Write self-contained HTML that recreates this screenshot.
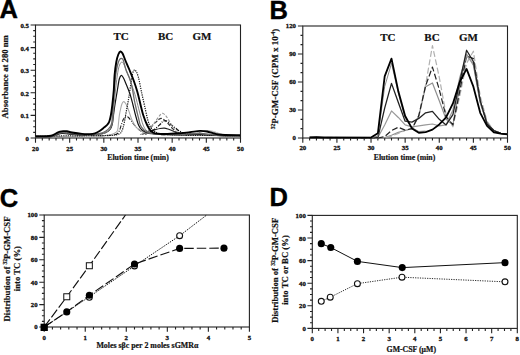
<!DOCTYPE html>
<html><head><meta charset="utf-8"><style>
html,body{margin:0;padding:0;background:#fff;width:520px;height:355px;overflow:hidden}
svg{display:block}
</style></head><body>
<svg width="520" height="355" viewBox="0 0 520 355">
<style>.t{font-family:"Liberation Serif", serif;font-weight:bold;font-size:6.8px;fill:#111;stroke:#111;stroke-width:0.3px} .l{font-family:"Liberation Serif", serif;font-weight:bold;font-size:8.7px;fill:#111;stroke:#111;stroke-width:0.2px} .h{font-family:"Liberation Serif", serif;font-weight:bold;font-size:11px;fill:#111;stroke:#111;stroke-width:0.2px} .P{font-family:"Liberation Sans", sans-serif;font-weight:bold;font-size:25.5px;fill:#000;stroke:#000;stroke-width:0.4px}</style>
<text x="-0.5" y="18.4" class="P">A</text>
<text x="269.5" y="18.6" class="P">B</text>
<text x="-0.3" y="206.9" class="P">C</text>
<text x="269.5" y="206" class="P">D</text>
<rect x="35.5" y="25" width="205" height="113" fill="none" stroke="#222" stroke-width="1.1"/>
<path d="M35.5 138V142.8M42.33 138V140.5M49.17 138V140.5M56 138V140.5M62.83 138V140.5M69.67 138V142.8M76.5 138V140.5M83.33 138V140.5M90.17 138V140.5M97 138V140.5M103.83 138V142.8M110.67 138V140.5M117.5 138V140.5M124.33 138V140.5M131.17 138V140.5M138 138V142.8M144.83 138V140.5M151.67 138V140.5M158.5 138V140.5M165.33 138V140.5M172.17 138V142.8M179 138V140.5M185.83 138V140.5M192.67 138V140.5M199.5 138V140.5M206.33 138V142.8M213.17 138V140.5M220 138V140.5M226.83 138V140.5M233.67 138V140.5M240.5 138V142.8M35.5 138H30.6M35.5 132.35H33.2M35.5 126.7H33.2M35.5 121.05H33.2M35.5 115.4H30.6M35.5 109.75H33.2M35.5 104.1H33.2M35.5 98.45H33.2M35.5 92.8H30.6M35.5 87.15H33.2M35.5 81.5H33.2M35.5 75.85H33.2M35.5 70.2H30.6M35.5 64.55H33.2M35.5 58.9H33.2M35.5 53.25H33.2M35.5 47.6H30.6M35.5 41.95H33.2M35.5 36.3H33.2M35.5 30.65H33.2M35.5 25H30.6" stroke="#222" stroke-width="1.1" fill="none"/>
<text x="35.5" y="150.6" text-anchor="middle" class="t">20</text>
<text x="69.67" y="150.6" text-anchor="middle" class="t">25</text>
<text x="103.83" y="150.6" text-anchor="middle" class="t">30</text>
<text x="138" y="150.6" text-anchor="middle" class="t">35</text>
<text x="172.17" y="150.6" text-anchor="middle" class="t">40</text>
<text x="206.33" y="150.6" text-anchor="middle" class="t">45</text>
<text x="240.5" y="150.6" text-anchor="middle" class="t">50</text>
<text x="28.9" y="141" text-anchor="end" class="t">0</text>
<text x="28.9" y="118.4" text-anchor="end" class="t">0.1</text>
<text x="28.9" y="95.8" text-anchor="end" class="t">0.2</text>
<text x="28.9" y="73.2" text-anchor="end" class="t">0.3</text>
<text x="28.9" y="50.6" text-anchor="end" class="t">0.4</text>
<text x="28.9" y="28" text-anchor="end" class="t">0.5</text>
<rect x="302.8" y="26" width="204.7" height="112" fill="none" stroke="#222" stroke-width="1.1"/>
<path d="M302.8 138V142.8M309.62 138V140.5M316.45 138V140.5M323.27 138V140.5M330.09 138V140.5M336.92 138V142.8M343.74 138V140.5M350.56 138V140.5M357.39 138V140.5M364.21 138V140.5M371.03 138V142.8M377.86 138V140.5M384.68 138V140.5M391.5 138V140.5M398.33 138V140.5M405.15 138V142.8M411.97 138V140.5M418.8 138V140.5M425.62 138V140.5M432.44 138V140.5M439.27 138V142.8M446.09 138V140.5M452.91 138V140.5M459.74 138V140.5M466.56 138V140.5M473.38 138V142.8M480.21 138V140.5M487.03 138V140.5M493.85 138V140.5M500.68 138V140.5M507.5 138V142.8M302.8 138H297.9M302.8 128.67H300.5M302.8 119.33H300.5M302.8 110H297.9M302.8 100.67H300.5M302.8 91.33H300.5M302.8 82H297.9M302.8 72.67H300.5M302.8 63.33H300.5M302.8 54H297.9M302.8 44.67H300.5M302.8 35.33H300.5M302.8 26H297.9" stroke="#222" stroke-width="1.1" fill="none"/>
<text x="302.8" y="149.8" text-anchor="middle" class="t">20</text>
<text x="336.92" y="149.8" text-anchor="middle" class="t">25</text>
<text x="371.03" y="149.8" text-anchor="middle" class="t">30</text>
<text x="405.15" y="149.8" text-anchor="middle" class="t">35</text>
<text x="439.27" y="149.8" text-anchor="middle" class="t">40</text>
<text x="473.38" y="149.8" text-anchor="middle" class="t">45</text>
<text x="507.5" y="149.8" text-anchor="middle" class="t">50</text>
<text x="296" y="139.8" text-anchor="end" class="t">0</text>
<text x="296" y="111.8" text-anchor="end" class="t">30</text>
<text x="296" y="83.8" text-anchor="end" class="t">60</text>
<text x="296" y="55.8" text-anchor="end" class="t">90</text>
<text x="296" y="27.8" text-anchor="end" class="t">120</text>
<rect x="44.2" y="215" width="205.2" height="112" fill="none" stroke="#222" stroke-width="1.1"/>
<path d="M44.2 327V331.8M52.41 327V329.5M60.62 327V329.5M68.82 327V329.5M77.03 327V329.5M85.24 327V331.8M93.45 327V329.5M101.66 327V329.5M109.86 327V329.5M118.07 327V329.5M126.28 327V331.8M134.49 327V329.5M142.7 327V329.5M150.9 327V329.5M159.11 327V329.5M167.32 327V331.8M175.53 327V329.5M183.74 327V329.5M191.94 327V329.5M200.15 327V329.5M208.36 327V331.8M216.57 327V329.5M224.78 327V329.5M232.98 327V329.5M241.19 327V329.5M249.4 327V331.8M44.2 327H39.3M44.2 321.4H41.9M44.2 315.8H41.9M44.2 310.2H41.9M44.2 304.6H39.3M44.2 299H41.9M44.2 293.4H41.9M44.2 287.8H41.9M44.2 282.2H39.3M44.2 276.6H41.9M44.2 271H41.9M44.2 265.4H41.9M44.2 259.8H39.3M44.2 254.2H41.9M44.2 248.6H41.9M44.2 243H41.9M44.2 237.4H39.3M44.2 231.8H41.9M44.2 226.2H41.9M44.2 220.6H41.9M44.2 215H39.3" stroke="#222" stroke-width="1.1" fill="none"/>
<text x="44.2" y="340" text-anchor="middle" class="t">0</text>
<text x="85.24" y="340" text-anchor="middle" class="t">1</text>
<text x="126.28" y="340" text-anchor="middle" class="t">2</text>
<text x="167.32" y="340" text-anchor="middle" class="t">3</text>
<text x="208.36" y="340" text-anchor="middle" class="t">4</text>
<text x="249.4" y="340" text-anchor="middle" class="t">5</text>
<text x="37.6" y="329.3" text-anchor="end" class="t">0</text>
<text x="37.6" y="306.9" text-anchor="end" class="t">20</text>
<text x="37.6" y="284.5" text-anchor="end" class="t">40</text>
<text x="37.6" y="262.1" text-anchor="end" class="t">60</text>
<text x="37.6" y="239.7" text-anchor="end" class="t">80</text>
<text x="37.6" y="217.3" text-anchor="end" class="t">100</text>
<rect x="312.3" y="215.4" width="205" height="113" fill="none" stroke="#222" stroke-width="1.1"/>
<path d="M312.3 328.4V333.2M318.71 328.4V330.9M325.11 328.4V330.9M331.52 328.4V330.9M337.93 328.4V333.2M344.33 328.4V330.9M350.74 328.4V330.9M357.14 328.4V330.9M363.55 328.4V333.2M369.96 328.4V330.9M376.36 328.4V330.9M382.77 328.4V330.9M389.17 328.4V333.2M395.58 328.4V330.9M401.99 328.4V330.9M408.39 328.4V330.9M414.8 328.4V333.2M421.21 328.4V330.9M427.61 328.4V330.9M434.02 328.4V330.9M440.42 328.4V333.2M446.83 328.4V330.9M453.24 328.4V330.9M459.64 328.4V330.9M466.05 328.4V333.2M472.46 328.4V330.9M478.86 328.4V330.9M485.27 328.4V330.9M491.67 328.4V333.2M498.08 328.4V330.9M504.49 328.4V330.9M510.89 328.4V330.9M517.3 328.4V333.2M312.3 328.4H307.4M312.3 322.75H310M312.3 317.1H310M312.3 311.45H310M312.3 305.8H307.4M312.3 300.15H310M312.3 294.5H310M312.3 288.85H310M312.3 283.2H307.4M312.3 277.55H310M312.3 271.9H310M312.3 266.25H310M312.3 260.6H307.4M312.3 254.95H310M312.3 249.3H310M312.3 243.65H310M312.3 238H307.4M312.3 232.35H310M312.3 226.7H310M312.3 221.05H310M312.3 215.4H307.4" stroke="#222" stroke-width="1.1" fill="none"/>
<text x="312.3" y="341.1" text-anchor="middle" class="t">0</text>
<text x="337.93" y="341.1" text-anchor="middle" class="t">1</text>
<text x="363.55" y="341.1" text-anchor="middle" class="t">2</text>
<text x="389.17" y="341.1" text-anchor="middle" class="t">3</text>
<text x="414.8" y="341.1" text-anchor="middle" class="t">4</text>
<text x="440.42" y="341.1" text-anchor="middle" class="t">5</text>
<text x="466.05" y="341.1" text-anchor="middle" class="t">6</text>
<text x="491.67" y="341.1" text-anchor="middle" class="t">7</text>
<text x="517.3" y="341.1" text-anchor="middle" class="t">8</text>
<text x="305.8" y="330.9" text-anchor="end" class="t">0</text>
<text x="305.8" y="308.3" text-anchor="end" class="t">20</text>
<text x="305.8" y="285.7" text-anchor="end" class="t">40</text>
<text x="305.8" y="263.1" text-anchor="end" class="t">60</text>
<text x="305.8" y="240.5" text-anchor="end" class="t">80</text>
<text x="305.8" y="217.9" text-anchor="end" class="t">100</text>
<text x="138" y="160" text-anchor="middle" class="l" style="font-size:7.8px">Elution time (min)</text>
<text x="404.5" y="160" text-anchor="middle" class="l" style="font-size:7.8px">Elution time (min)</text>
<text transform="translate(8,76.8) rotate(-90)" text-anchor="middle" class="l">Absorbance at 280 nm</text>
<text transform="translate(278.3,79) rotate(-90)" text-anchor="middle" class="l" style="font-size:9px"><tspan font-size="5.6" dy="-3">32</tspan><tspan dy="3">P-GM-CSF (CPM x 10</tspan><tspan font-size="5.6" dy="-3">-4</tspan><tspan dy="3">)</tspan></text>
<text x="113.5" y="40" class="h">TC</text><text x="158" y="40" class="h">BC</text><text x="192.4" y="40" class="h">GM</text>
<text x="380.2" y="41" class="h">TC</text><text x="424.3" y="41" class="h">BC</text><text x="458.9" y="41" class="h">GM</text>
<text x="147.4" y="347.8" text-anchor="middle" class="l" style="font-size:7.9px">Moles sβc per 2 moles sGMRα</text>
<text x="411.3" y="352" text-anchor="middle" class="l" style="font-size:7.8px">GM-CSF (μM)</text>
<text transform="translate(9.6,269) rotate(-90)" text-anchor="middle" class="l"><tspan>Distribution of </tspan><tspan font-size="5.6" dy="-3">32</tspan><tspan dy="3">P-GM-CSF</tspan></text>
<text transform="translate(19.7,268.6) rotate(-90)" text-anchor="middle" class="l">into TC (%)</text>
<text transform="translate(278,270.3) rotate(-90)" text-anchor="middle" class="l"><tspan>Distribution of </tspan><tspan font-size="5.6" dy="-3">32</tspan><tspan dy="3">P-GM-CSF</tspan></text>
<text transform="translate(288,270) rotate(-90)" text-anchor="middle" class="l">into TC or BC (%)</text>
<path d="M44.2 327 L66.77 296.76 L89.34 265.74 L125.46 215" fill="none" stroke="#111" stroke-width="1.15" stroke-dasharray="9.5 2.6"/>
<path d="M44.2 327 L66.77 311.88 L89.34 295.3 L134.49 264.06 L179.63 248.38 L223.96 248.15" fill="none" stroke="#111" stroke-width="1.15" stroke-dasharray="9.5 3"/>
<path d="M44.2 327 L89.34 296.76 L134.49 265.96 L179.63 235.72 L206.72 215" fill="none" stroke="#000" stroke-width="1.0" stroke-dasharray="1.2 1.1"/>
<rect x="63.77" y="293.76" width="6" height="6" fill="#fff" stroke="#111" stroke-width="1"/>
<rect x="86.34" y="262.74" width="6" height="6" fill="#fff" stroke="#111" stroke-width="1"/>
<circle cx="89.34" cy="297.32" r="2.9499999999999997" fill="#fff" stroke="#111" stroke-width="1.1"/>
<circle cx="134.49" cy="265.96" r="2.9499999999999997" fill="#fff" stroke="#111" stroke-width="1.1"/>
<circle cx="179.63" cy="235.72" r="2.9499999999999997" fill="#fff" stroke="#111" stroke-width="1.1"/>
<circle cx="66.77" cy="311.88" r="3.55" fill="#000"/>
<circle cx="89.34" cy="295.3" r="3.55" fill="#000"/>
<circle cx="134.49" cy="264.06" r="3.55" fill="#000"/>
<circle cx="179.63" cy="248.38" r="3.55" fill="#000"/>
<circle cx="223.96" cy="248.15" r="3.55" fill="#000"/>
<rect x="40.55" y="323.7" width="7.3" height="7.3" fill="#000"/>
<path d="M321.27 243.65 L330.75 247.49 L357.4 261.39 L402.24 267.61 L505 262.63" fill="none" stroke="#111" stroke-width="1.0"/>
<path d="M321.27 301.28 L330.24 297.21 L357.4 283.65 L401.99 277.21 L505 281.84" fill="none" stroke="#111" stroke-width="0.9" stroke-dasharray="1.2 1.2"/>
<circle cx="321.27" cy="243.65" r="3.55" fill="#000"/>
<circle cx="330.75" cy="247.49" r="3.55" fill="#000"/>
<circle cx="357.4" cy="261.39" r="3.55" fill="#000"/>
<circle cx="402.24" cy="267.61" r="3.55" fill="#000"/>
<circle cx="505" cy="262.63" r="3.55" fill="#000"/>
<circle cx="321.27" cy="301.28" r="2.9499999999999997" fill="#fff" stroke="#111" stroke-width="1.1"/>
<circle cx="330.24" cy="297.21" r="2.9499999999999997" fill="#fff" stroke="#111" stroke-width="1.1"/>
<circle cx="357.4" cy="283.65" r="2.9499999999999997" fill="#fff" stroke="#111" stroke-width="1.1"/>
<circle cx="401.99" cy="277.21" r="2.9499999999999997" fill="#fff" stroke="#111" stroke-width="1.1"/>
<circle cx="505" cy="281.84" r="2.9499999999999997" fill="#fff" stroke="#111" stroke-width="1.1"/>
<path d="M180.00 135.20C182.50 134.97 191.00 134.50 195.00 133.80C199.00 133.10 201.50 131.47 204.00 131.00C206.50 130.53 207.67 130.58 210.00 131.00C212.33 131.42 215.00 132.75 218.00 133.50C221.00 134.25 224.33 135.12 228.00 135.50C231.67 135.88 238.00 135.75 240.00 135.80" fill="none" stroke="#888" stroke-width="1.0" stroke-linejoin="round"/>
<path d="M185.00 135.50C186.67 135.17 192.00 134.25 195.00 133.50C198.00 132.75 200.83 131.48 203.00 131.00C205.17 130.52 206.17 130.52 208.00 130.60C209.83 130.68 211.67 130.90 214.00 131.50C216.33 132.10 219.00 133.48 222.00 134.20C225.00 134.92 229.00 135.50 232.00 135.80C235.00 136.10 238.67 135.97 240.00 136.00" fill="none" stroke="#c4c4c4" stroke-width="1.0" stroke-dasharray="2 1" stroke-linejoin="round"/>
<path d="M146.00 134.00C146.92 133.50 149.83 131.75 151.50 131.00C153.17 130.25 154.58 129.92 156.00 129.50C157.42 129.08 158.63 128.73 160.00 128.50C161.37 128.27 162.87 128.02 164.20 128.10C165.53 128.18 166.53 128.52 168.00 129.00C169.47 129.48 171.33 130.33 173.00 131.00C174.67 131.67 175.83 132.42 178.00 133.00C180.17 133.58 184.67 134.25 186.00 134.50" fill="none" stroke="#222" stroke-width="1.1" stroke-linejoin="round"/>
<path d="M145.00 134.20C145.83 133.83 148.33 132.87 150.00 132.00C151.67 131.13 153.33 130.25 155.00 129.00C156.67 127.75 158.67 125.78 160.00 124.50C161.33 123.22 162.07 121.95 163.00 121.30C163.93 120.65 164.77 120.48 165.60 120.60C166.43 120.72 166.93 121.18 168.00 122.00C169.07 122.82 170.75 124.50 172.00 125.50C173.25 126.50 174.38 127.15 175.50 128.00C176.62 128.85 177.12 129.68 178.70 130.60C180.28 131.52 182.28 132.85 185.00 133.50C187.72 134.15 193.33 134.33 195.00 134.50" fill="none" stroke="#111" stroke-width="1.25" stroke-dasharray="4 1.3 1 1.3" stroke-linejoin="round"/>
<path d="M142.00 134.50C143.00 134.00 146.25 133.03 148.00 131.50C149.75 129.97 151.12 126.90 152.50 125.30C153.88 123.70 155.22 122.90 156.30 121.90C157.38 120.90 158.18 119.88 159.00 119.30C159.82 118.72 160.37 118.35 161.20 118.40C162.03 118.45 162.87 118.75 164.00 119.60C165.13 120.45 166.67 122.10 168.00 123.50C169.33 124.90 170.50 126.50 172.00 128.00C173.50 129.50 174.83 131.42 177.00 132.50C179.17 133.58 183.67 134.17 185.00 134.50" fill="none" stroke="#333" stroke-width="1.1" stroke-dasharray="4 1.6" stroke-linejoin="round"/>
<path d="M140.00 134.50C141.00 134.17 144.33 133.42 146.00 132.50C147.67 131.58 148.50 130.75 150.00 129.00C151.50 127.25 153.45 124.17 155.00 122.00C156.55 119.83 158.05 117.45 159.30 116.00C160.55 114.55 161.47 113.38 162.50 113.30C163.53 113.22 164.58 114.55 165.50 115.50C166.42 116.45 167.08 117.58 168.00 119.00C168.92 120.42 170.00 122.42 171.00 124.00C172.00 125.58 172.83 127.08 174.00 128.50C175.17 129.92 176.17 131.50 178.00 132.50C179.83 133.50 181.33 134.12 185.00 134.50C188.67 134.88 197.50 134.75 200.00 134.80" fill="none" stroke="#999" stroke-width="1.1" stroke-dasharray="3 1.5" stroke-linejoin="round"/>
<path d="M35.50 136.60C37.92 136.55 46.75 136.57 50.00 136.30C53.25 136.03 53.50 135.50 55.00 135.00C56.50 134.50 57.58 133.70 59.00 133.30C60.42 132.90 62.17 132.62 63.50 132.60C64.83 132.58 65.58 132.92 67.00 133.20C68.42 133.48 69.00 133.95 72.00 134.30C75.00 134.65 80.33 135.05 85.00 135.30C89.67 135.55 95.83 135.77 100.00 135.80C104.17 135.83 107.67 135.63 110.00 135.50C112.33 135.37 112.75 135.33 114.00 135.00C115.25 134.67 116.58 134.25 117.50 133.50C118.42 132.75 118.87 131.92 119.50 130.50C120.13 129.08 120.72 126.75 121.30 125.00C121.88 123.25 122.42 121.28 123.00 120.00C123.58 118.72 124.23 117.87 124.80 117.30C125.37 116.73 125.78 116.57 126.40 116.60C127.02 116.63 127.73 116.85 128.50 117.50C129.27 118.15 130.08 119.33 131.00 120.50C131.92 121.67 133.00 123.25 134.00 124.50C135.00 125.75 135.67 126.83 137.00 128.00C138.33 129.17 139.83 130.58 142.00 131.50C144.17 132.42 146.17 132.92 150.00 133.50C153.83 134.08 162.50 134.75 165.00 135.00" fill="none" stroke="#222" stroke-width="1.1" stroke-dasharray="4 1.5 1 1.5" stroke-linejoin="round"/>
<path d="M35.50 137.00C39.58 136.92 50.92 136.67 60.00 136.50C69.08 136.33 82.50 136.15 90.00 136.00C97.50 135.85 101.67 135.80 105.00 135.60C108.33 135.40 108.50 135.15 110.00 134.80C111.50 134.45 112.83 134.05 114.00 133.50C115.17 132.95 116.33 132.42 117.00 131.50C117.67 130.58 117.73 129.58 118.00 128.00C118.27 126.42 118.37 124.17 118.60 122.00C118.83 119.83 119.07 117.17 119.40 115.00C119.73 112.83 120.18 110.83 120.60 109.00C121.02 107.17 121.43 105.22 121.90 104.00C122.37 102.78 122.88 101.93 123.40 101.70C123.92 101.47 124.45 101.97 125.00 102.60C125.55 103.23 126.03 104.03 126.70 105.50C127.37 106.97 128.12 108.98 129.00 111.40C129.88 113.82 130.83 117.40 132.00 120.00C133.17 122.60 134.33 125.08 136.00 127.00C137.67 128.92 139.67 130.37 142.00 131.50C144.33 132.63 145.33 133.22 150.00 133.80C154.67 134.38 155.00 134.63 170.00 135.00C185.00 135.37 228.33 135.83 240.00 136.00" fill="none" stroke="#aaa" stroke-width="1.1" stroke-linejoin="round"/>
<path d="M35.50 136.50C39.58 136.38 52.58 135.92 60.00 135.80C67.42 135.68 73.33 135.83 80.00 135.80C86.67 135.77 94.50 135.70 100.00 135.60C105.50 135.50 109.75 135.50 113.00 135.20C116.25 134.90 118.07 134.42 119.50 133.80C120.93 133.18 121.02 132.47 121.60 131.50C122.18 130.53 122.53 129.58 123.00 128.00C123.47 126.42 123.90 124.50 124.40 122.00C124.90 119.50 125.48 115.83 126.00 113.00C126.52 110.17 127.02 107.67 127.50 105.00C127.98 102.33 128.35 100.50 128.90 97.00C129.45 93.50 130.20 87.83 130.80 84.00C131.40 80.17 131.88 76.37 132.50 74.00C133.12 71.63 133.83 70.13 134.50 69.80C135.17 69.47 135.92 70.97 136.50 72.00C137.08 73.03 137.53 74.50 138.00 76.00C138.47 77.50 138.72 78.33 139.30 81.00C139.88 83.67 140.65 88.00 141.50 92.00C142.35 96.00 143.35 100.33 144.40 105.00C145.45 109.67 146.80 116.33 147.80 120.00C148.80 123.67 149.37 125.17 150.40 127.00C151.43 128.83 152.40 129.92 154.00 131.00C155.60 132.08 156.50 132.80 160.00 133.50C163.50 134.20 166.67 134.88 175.00 135.20C183.33 135.52 199.17 135.30 210.00 135.40C220.83 135.50 235.00 135.73 240.00 135.80" fill="none" stroke="#111" stroke-width="1.2" stroke-dasharray="1.2 1.1" stroke-linejoin="round"/>
<path d="M35.50 137.00C37.92 136.97 46.58 137.13 50.00 136.80C53.42 136.47 54.00 135.55 56.00 135.00C58.00 134.45 59.67 133.63 62.00 133.50C64.33 133.37 66.17 133.95 70.00 134.20C73.83 134.45 80.00 135.03 85.00 135.00C90.00 134.97 96.50 134.42 100.00 134.00C103.50 133.58 104.33 133.25 106.00 132.50C107.67 131.75 108.95 130.92 110.00 129.50C111.05 128.08 111.72 126.42 112.30 124.00C112.88 121.58 113.07 118.17 113.50 115.00C113.93 111.83 114.25 109.17 114.90 105.00C115.55 100.83 116.67 94.33 117.40 90.00C118.13 85.67 118.65 81.43 119.30 79.00C119.95 76.57 120.60 75.57 121.30 75.40C122.00 75.23 122.63 76.40 123.50 78.00C124.37 79.60 125.42 82.33 126.50 85.00C127.58 87.67 128.92 90.67 130.00 94.00C131.08 97.33 132.08 101.50 133.00 105.00C133.92 108.50 134.58 111.67 135.50 115.00C136.42 118.33 137.42 122.50 138.50 125.00C139.58 127.50 140.42 128.70 142.00 130.00C143.58 131.30 145.00 132.13 148.00 132.80C151.00 133.47 154.67 133.67 160.00 134.00C165.33 134.33 173.33 134.72 180.00 134.80C186.67 134.88 193.33 134.35 200.00 134.50C206.67 134.65 213.33 135.45 220.00 135.70C226.67 135.95 236.67 135.95 240.00 136.00" fill="none" stroke="#111" stroke-width="1.2" stroke-linejoin="round"/>
<path d="M100.00 134.80C101.00 134.42 104.33 133.47 106.00 132.50C107.67 131.53 108.95 130.58 110.00 129.00C111.05 127.42 111.70 126.17 112.30 123.00C112.90 119.83 113.18 114.33 113.60 110.00C114.02 105.67 114.35 101.50 114.80 97.00C115.25 92.50 115.73 87.50 116.30 83.00C116.87 78.50 117.58 73.17 118.20 70.00C118.82 66.83 119.43 65.30 120.00 64.00C120.57 62.70 121.02 62.27 121.60 62.20C122.18 62.13 122.60 61.97 123.50 63.60C124.40 65.23 125.75 68.77 127.00 72.00C128.25 75.23 129.75 79.50 131.00 83.00C132.25 86.50 133.58 90.17 134.50 93.00C135.42 95.83 135.67 96.83 136.50 100.00C137.33 103.17 138.40 107.83 139.50 112.00C140.60 116.17 141.85 121.83 143.10 125.00C144.35 128.17 145.52 129.58 147.00 131.00C148.48 132.42 149.00 132.90 152.00 133.50C155.00 134.10 159.50 134.35 165.00 134.60C170.50 134.85 181.67 134.93 185.00 135.00" fill="none" stroke="#858585" stroke-width="1.0" stroke-linejoin="round"/>
<path d="M35.50 136.80C38.25 136.75 48.58 136.88 52.00 136.50C55.42 136.12 54.67 135.08 56.00 134.50C57.33 133.92 58.83 133.33 60.00 133.00C61.17 132.67 61.67 132.50 63.00 132.50C64.33 132.50 66.00 132.75 68.00 133.00C70.00 133.25 71.33 133.75 75.00 134.00C78.67 134.25 85.83 134.58 90.00 134.50C94.17 134.42 97.33 134.08 100.00 133.50C102.67 132.92 104.33 132.08 106.00 131.00C107.67 129.92 109.02 128.50 110.00 127.00C110.98 125.50 111.37 125.67 111.90 122.00C112.43 118.33 112.80 110.33 113.20 105.00C113.60 99.67 113.88 95.00 114.30 90.00C114.72 85.00 115.17 79.17 115.70 75.00C116.23 70.83 116.90 67.50 117.50 65.00C118.10 62.50 118.72 61.08 119.30 60.00C119.88 58.92 120.35 58.50 121.00 58.50C121.65 58.50 122.37 58.08 123.20 60.00C124.03 61.92 124.82 66.67 126.00 70.00C127.18 73.33 129.20 76.67 130.30 80.00C131.40 83.33 131.93 86.67 132.60 90.00C133.27 93.33 133.65 96.67 134.30 100.00C134.95 103.33 135.80 107.00 136.50 110.00C137.20 113.00 137.87 115.50 138.50 118.00C139.13 120.50 139.38 123.00 140.30 125.00C141.22 127.00 142.38 128.67 144.00 130.00C145.62 131.33 147.33 132.33 150.00 133.00C152.67 133.67 155.83 133.75 160.00 134.00C164.17 134.25 168.33 134.58 175.00 134.50C181.67 134.42 193.33 133.42 200.00 133.50C206.67 133.58 208.33 134.65 215.00 135.00C221.67 135.35 235.83 135.50 240.00 135.60" fill="none" stroke="#6a6a6a" stroke-width="1.3" stroke-linejoin="round"/>
<path d="M35.50 136.30C37.25 136.28 43.42 136.28 46.00 136.20C48.58 136.12 49.67 136.07 51.00 135.80C52.33 135.53 53.00 135.10 54.00 134.60C55.00 134.10 56.00 133.30 57.00 132.80C58.00 132.30 58.97 131.88 60.00 131.60C61.03 131.32 62.03 131.15 63.20 131.10C64.37 131.05 65.53 131.07 67.00 131.30C68.47 131.53 69.50 132.07 72.00 132.50C74.50 132.93 79.00 133.63 82.00 133.90C85.00 134.17 87.83 134.20 90.00 134.10C92.17 134.00 93.33 133.85 95.00 133.30C96.67 132.75 98.45 131.80 100.00 130.80C101.55 129.80 103.05 128.35 104.30 127.30C105.55 126.25 106.67 125.47 107.50 124.50C108.33 123.53 108.73 123.08 109.30 121.50C109.87 119.92 110.40 117.75 110.90 115.00C111.40 112.25 111.82 109.17 112.30 105.00C112.78 100.83 113.42 95.00 113.80 90.00C114.18 85.00 114.18 79.67 114.60 75.00C115.02 70.33 115.68 65.42 116.30 62.00C116.92 58.58 117.60 56.25 118.30 54.50C119.00 52.75 119.78 51.67 120.50 51.50C121.22 51.33 121.82 52.08 122.60 53.50C123.38 54.92 124.05 57.25 125.20 60.00C126.35 62.75 128.12 66.67 129.50 70.00C130.88 73.33 132.18 76.33 133.50 80.00C134.82 83.67 136.22 87.83 137.40 92.00C138.58 96.17 139.63 101.17 140.60 105.00C141.57 108.83 142.12 111.67 143.20 115.00C144.28 118.33 145.90 122.45 147.10 125.00C148.30 127.55 149.08 128.92 150.40 130.30C151.72 131.68 152.57 132.68 155.00 133.30C157.43 133.92 160.83 134.02 165.00 134.00C169.17 133.98 175.83 133.50 180.00 133.20C184.17 132.90 186.67 132.58 190.00 132.20C193.33 131.82 197.17 131.02 200.00 130.90C202.83 130.78 204.83 131.12 207.00 131.50C209.17 131.88 211.17 132.70 213.00 133.20C214.83 133.70 216.00 134.20 218.00 134.50C220.00 134.80 221.33 134.90 225.00 135.00C228.67 135.10 237.50 135.08 240.00 135.10" fill="none" stroke="#000" stroke-width="1.9" stroke-linejoin="round"/>
<path d="M309.62 137.44L384.68 137.53L391.50 135.20L398.33 132.40L405.15 130.53L411.97 128.67L418.80 116.53L425.62 86.67L432.44 82.93L439.27 100.67L446.09 119.33L452.91 124.93L459.74 86.67L466.56 54.00L473.38 65.20L480.21 102.53L487.03 123.07L493.85 130.53L500.68 133.33L507.50 134.27" fill="none" stroke="#909090" stroke-width="1.2" stroke-linejoin="round"/>
<path d="M309.62 137.44L384.68 137.53L391.50 136.13L398.33 133.33L405.15 130.53L411.97 128.67L418.80 115.60L425.62 84.80L432.44 45.60L439.27 77.33L446.09 114.67L452.91 126.80L459.74 96.00L466.56 63.33L473.38 51.20L480.21 96.00L487.03 121.20L493.85 130.53L500.68 133.33L507.50 134.27" fill="none" stroke="#b0b0b0" stroke-width="1.2" stroke-dasharray="6 2.5" stroke-linejoin="round"/>
<path d="M309.62 137.44L377.86 138.00L384.68 136.60L391.50 130.53L398.33 127.27L405.15 130.07L411.97 128.67L418.80 115.60L425.62 85.73L432.44 67.07L439.27 89.47L446.09 116.53L452.91 124.93L459.74 91.33L466.56 55.87L473.38 58.67L480.21 100.67L487.03 123.07L493.85 130.53L500.68 133.33L507.50 134.27" fill="none" stroke="#222" stroke-width="1.2" stroke-dasharray="6 2.5" stroke-linejoin="round"/>
<path d="M309.62 137.44L377.86 137.53L384.68 124.93L391.50 110.93L398.33 117.47L405.15 124.93L411.97 126.80L418.80 125.87L425.62 124.93L432.44 124.00L439.27 125.87L446.09 124.93L452.91 110.00L459.74 77.33L466.56 55.87L473.38 63.33L480.21 102.53L487.03 123.07L493.85 130.53L500.68 133.33L507.50 134.27" fill="none" stroke="#999" stroke-width="1.2" stroke-linejoin="round"/>
<path d="M309.62 137.44L377.86 137.53L384.68 108.13L391.50 83.40L398.33 102.53L405.15 121.20L411.97 122.13L418.80 118.40L425.62 112.80L432.44 111.40L439.27 119.33L446.09 124.93L452.91 114.67L459.74 82.00L466.56 50.27L473.38 61.47L480.21 100.67L487.03 124.00L493.85 130.53L500.68 133.33L507.50 134.27" fill="none" stroke="#222" stroke-width="1.3" stroke-linejoin="round"/>
<path d="M309.62 137.44L371.03 137.63L377.86 136.13L384.68 86.67L391.50 63.33L398.33 93.20L405.15 118.40L411.97 127.73L418.80 131.47L425.62 131.00" fill="none" stroke="#888" stroke-width="1.0" stroke-linejoin="round"/>
<path d="M309.62 137.53L316.45 137.25L323.27 137.53L343.74 137.63L371.03 137.53L377.86 133.33L384.68 76.40L391.50 58.67L398.33 91.33L405.15 115.97L411.97 128.39L418.80 132.87L425.62 132.03L432.44 129.60L439.27 124.47L446.09 117.47L452.91 103.47L459.74 82.00L466.56 68.93L473.38 86.67L480.21 112.80L487.03 125.87L493.85 132.40L500.68 133.52L507.50 134.27" fill="none" stroke="#000" stroke-width="1.8" stroke-linejoin="round"/>
</svg>
</body></html>
